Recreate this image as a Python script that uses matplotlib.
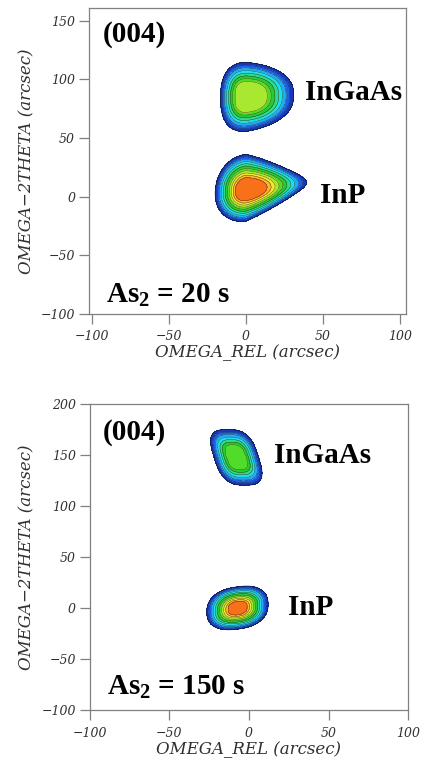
import numpy as np
import matplotlib
matplotlib.use("Agg")
import matplotlib.pyplot as plt

plt.rcParams['mathtext.fontset'] = 'custom'
plt.rcParams['mathtext.rm'] = 'Liberation Serif:bold'
plt.rcParams['mathtext.bf'] = 'Liberation Serif:bold'
plt.rcParams['mathtext.it'] = 'Liberation Serif:bold'

# ---------------- data ----------------
# Panel A : As2 = 20 s
a_labels = ["InGaAs", "InP"]
a_center_x = [0.0, 0.0]
a_center_y = [85.0, 5.5]
a_width_left = [16.5, 20.0]
a_width_right = [31.0, 39.5]
a_width_down = [29.5, 26.5]
a_width_up = [29.5, 30.5]
a_skew_y = [0.05, 0.16]
a_skew_x = [0.0, 0.0]
a_taper = [0.2, 0.6]
a_shape = [2.5, 2.1]
a_top_band = [7, 10]
a_core_radius = [0.45, 0.35]

# Panel B : As2 = 150 s
b_labels = ["InGaAs", "InP"]
b_center_x = [-8.0, -7.0]
b_center_y = [148.0, 0.0]
b_width_left = [14.0, 19.5]
b_width_right = [14.0, 19.0]
b_width_down = [27.5, 20.5]
b_width_up = [27.0, 21.0]
b_skew_y = [0.0, 0.2]
b_skew_x = [-0.2, 0.0]
b_taper = [0.0, 0.0]
b_shape = [3.0, 2.4]
b_top_band = [6, 10]
b_core_radius = [0.45, 0.32]

x_ticks = [-100, -50, 0, 50, 100]
a_y_ticks = [-100, -50, 0, 50, 100, 150]
b_y_ticks = [-100, -50, 0, 50, 100, 150, 200]
a_title = "As$_{2}$ = 20 s"
b_title = "As$_{2}$ = 150 s"
reflection = "(004)"

band_colors = ["#1838b8", "#2060e0", "#28a8f0", "#20dcf0", "#30d890",
               "#28c838", "#50dc28", "#a8e830", "#f0e830", "#f8b828", "#f87018"]


def peak_field(X, Y, cx, cy, wl, wr, wd, wu, sy, sx, taper, e, top, rc):
    dx = X - cx
    dy = Y - cy - sy * dx
    dx = dx - sx * dy
    wx = np.where(dx < 0, wl, wr)
    u = np.clip(dx / wr, 0, 1)
    wy = np.where(dy < 0, wd, wu) * (1 - taper * u)
    r = (np.abs(dx / wx) ** e + np.abs(dy / wy) ** e) ** (1.0 / e)
    slope = top / (1.0 - rc)
    return np.minimum(slope * (1 - r), top + 0.5)


def panel_field(X, Y, cxs, cys, wls, wrs, wds, wus, sys, sxs, tps, es, tops, rcs):
    Z = np.full(X.shape, -5.0)
    for args in zip(cxs, cys, wls, wrs, wds, wus, sys, sxs, tps, es, tops, rcs):
        Z = np.maximum(Z, peak_field(X, Y, *args))
    return Z


gx = np.arange(-110, 111, 2.0)
gy = np.arange(-110, 221, 2.0)
X, Y = np.meshgrid(gx, gy)

fig = plt.figure(figsize=(4.22, 7.58), dpi=100)
axA = fig.add_axes([0.211, 0.586, 0.751, 0.403])
axB = fig.add_axes([0.213, 0.063, 0.754, 0.404])

lev = np.arange(0, len(band_colors) + 1)

tick_font = dict(family="DejaVu Serif", style="italic", size=9)
lab_font = dict(family="DejaVu Serif", style="italic", size=12)
big_font = dict(family="Liberation Serif", weight="bold", size=21)

for ax, Z, ylim, xlim, yt in [
    (axA, panel_field(X, Y, a_center_x, a_center_y, a_width_left, a_width_right,
                      a_width_down, a_width_up, a_skew_y, a_skew_x, a_taper,
                      a_shape, a_top_band, a_core_radius), (-100, 160.5), (-102, 104), a_y_ticks),
    (axB, panel_field(X, Y, b_center_x, b_center_y, b_width_left, b_width_right,
                      b_width_down, b_width_up, b_skew_y, b_skew_x, b_taper,
                      b_shape, b_top_band, b_core_radius), (-100, 200), (-100, 100), b_y_ticks),
]:
    ax.contourf(X, Y, Z, levels=lev, colors=band_colors)
    ax.contour(X, Y, Z, levels=lev[1:-1], colors="#202020", linewidths=0.25)
    ax.contour(X, Y, Z, levels=[0], colors="#101830", linewidths=0.5)
    ax.set_xlim(*xlim)
    ax.set_ylim(*ylim)
    ax.set_xticks(x_ticks)
    ax.set_yticks(yt)
    ax.set_xticklabels([str(t).replace("-", "\u2212") for t in x_ticks], **tick_font)
    ax.set_yticklabels([str(t).replace("-", "\u2212") for t in yt], **tick_font)
    for s in ax.spines.values():
        s.set_color("#808080")
        s.set_linewidth(0.9)
    ax.tick_params(direction="out", length=7, width=0.9, color="#808080",
                   labelcolor="#303030")
    ax.tick_params(axis="x", pad=5)
    ax.tick_params(axis="y", pad=3)
    ax.set_xlabel("OMEGA_REL (arcsec)", **lab_font, color="#303030")
    ax.set_ylabel("OMEGA\u22122THETA (arcsec)", **lab_font, color="#303030")
    ax.xaxis.set_label_coords(0.5, -0.10)
    ax.yaxis.set_label_coords(-0.17, 0.5)

# Panel A texts
axA.text(0.044, 0.89, reflection, transform=axA.transAxes, **big_font)
axA.text(38.5, 82, a_labels[0], **big_font)
axA.text(48.0, -5.4, a_labels[1], **big_font)
axA.text(0.054, 0.035, a_title, transform=axA.transAxes, **big_font)

# Panel B texts
axB.text(0.041, 0.882, reflection, transform=axB.transAxes, **big_font)
axB.text(15.6, 142.5, b_labels[0], **big_font)
axB.text(24.6, -6.9, b_labels[1], **big_font)
axB.text(0.053, 0.049, b_title, transform=axB.transAxes, **big_font)

fig.savefig("out.png", dpi=100)
